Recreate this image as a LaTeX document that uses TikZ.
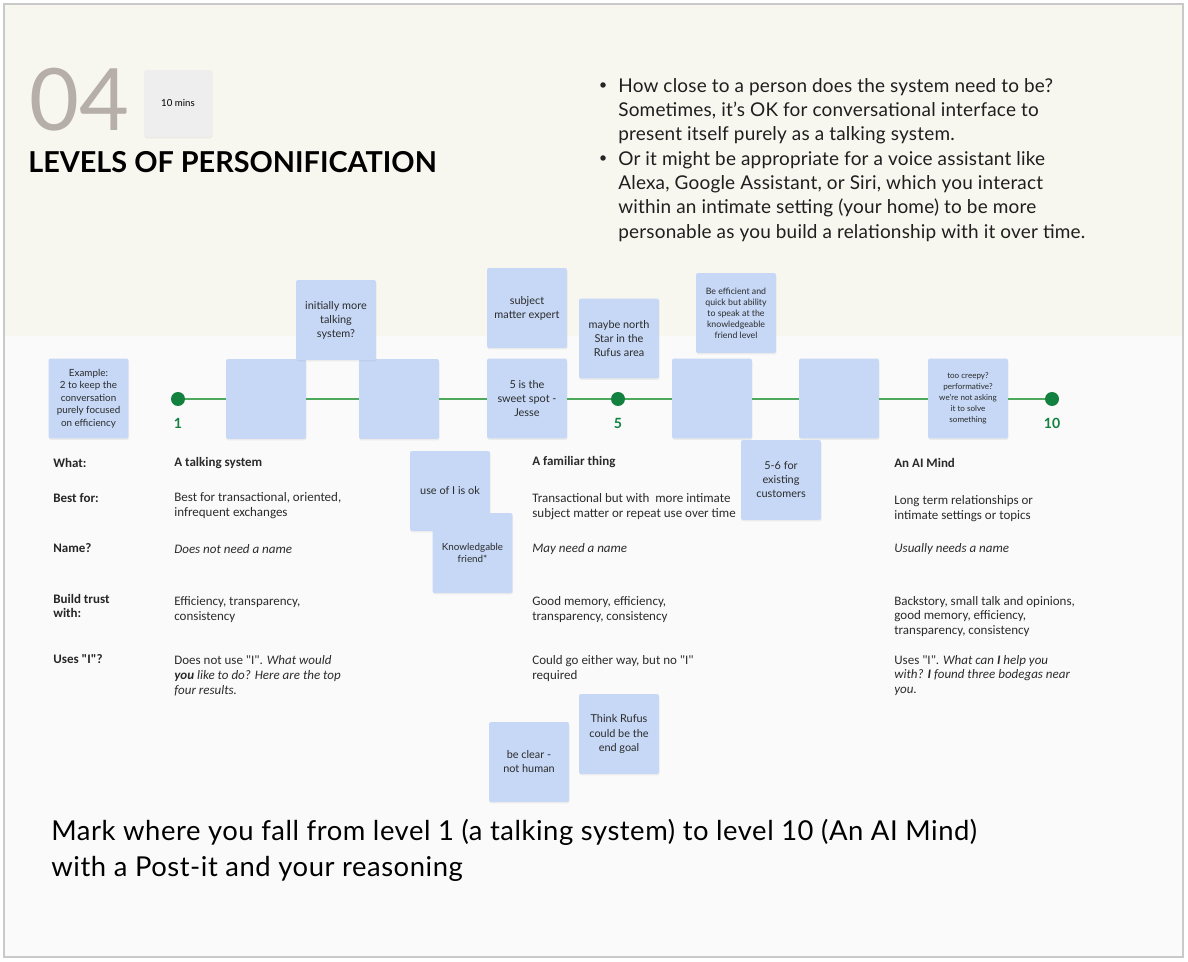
\documentclass[tikz,border=0pt]{standalone}
\usepackage{fontspec}
\setmainfont{Lato}
\newfontfamily\gridfont{Carlito}
\usetikzlibrary{positioning,shadows}
\definecolor{pfbeige}{HTML}{F7F6EF}
\definecolor{pfpaper}{HTML}{FAFAFA}
\definecolor{pfframe}{HTML}{C9C9C9}
\definecolor{pfnote}{HTML}{C6D8F6}
\definecolor{pfline}{HTML}{4DAA5C}
\definecolor{pfgreen}{HTML}{12803F}
\definecolor{pftaupe}{HTML}{B6AEA8}
\definecolor{pftext}{HTML}{2B2B2B}
\definecolor{pfcard}{HTML}{EEEEEE}

\begin{document}
\begin{tikzpicture}[x=0.02cm,y=-0.02cm]
    \tikzset{note/.style={fill=pfnote,rounded corners=1.2pt,minimum width=1.6cm,minimum height=1.6cm,inner sep=2pt,align=center,text=pftext,font=\fontsize{6.2}{8}\selectfont,drop shadow={opacity=0.12,shadow xshift=0.3pt,shadow yshift=-0.8pt}},
      smallnote/.style={note,font=\fontsize{5.6}{7.1}\selectfont},
      tinynote/.style={note,font=\fontsize{4.6}{6.2}\selectfont},
      rowhead/.style={anchor=west,inner sep=0pt,align=left,font=\gridfont\bfseries\fontsize{7.4}{8.5}\selectfont,text=black!85},
      cell/.style={anchor=west,inner sep=0pt,align=left,font=\gridfont\fontsize{7.4}{8.5}\selectfont,text=pftext},
      stop/.style={circle,fill=pfgreen,minimum size=0.28cm,inner sep=0pt},
      levelnum/.style={inner sep=0pt,font=\bfseries\fontsize{8}{8}\selectfont,text=pfgreen},
      pointtext/.style={anchor=west,inner sep=0pt,align=left,font=\fontsize{10.8}{13.8}\selectfont\addfontfeatures{LetterSpace=1},text=black!88},
      pointdot/.style={circle,fill=black!85,minimum size=0.11cm,inner sep=0pt}}
    \useasboundingbox[fill=white] (0,0) rectangle (1188,962);
    \fill[pfpaper] (4,4) rectangle (1183,957);
    \fill[pfbeige] (4,4) rectangle (1183,336);
    \draw[pfframe,line width=0.8pt] (4,4) rectangle (1183,957);

    \node[anchor=west,inner sep=0pt,text=pftaupe,font=\fontsize{49}{49}\selectfont] (num) at (29,100) {04};
    \node[fill=pfcard,minimum width=1.36cm,minimum height=1.34cm,rounded corners=1pt,font=\fontsize{5.5}{6}\selectfont,drop shadow={opacity=0.1,shadow xshift=0.3pt,shadow yshift=-0.8pt}] (mins) at (178,103.5) {10 mins};
    \node[anchor=west,inner sep=0pt,font=\bfseries\fontsize{16.4}{17}\selectfont] (title) at (28,162) {LEVELS OF PERSONIFICATION};

    \node[pointdot] (dota) at (603,85) {};
    \node[pointtext] (pointa) at (618,111) {How close to a person does the system need to be?\\Sometimes, it’s OK for conversational interface to\\present itself purely as a talking system.};
    \node[pointdot] (dotb) at (603,158) {};
    \node[pointtext] (pointb) at (618,196.5) {Or it might be appropriate for a voice assistant like\\Alexa, Google Assistant, or Siri, which you interact\\within an intimate setting (your home) to be more\\personable as you build a relationship with it over time.};

    \node[stop] (one) at (178,399) {};
    \node[stop] (five) at (618,399) {};
    \node[stop] (ten) at (1052,399) {};
    \draw[pfline,line width=1.6pt] (one) -- (five) -- (ten);
    \node[levelnum,below=0.24cm of one] (lone) {1};
    \node[levelnum,below=0.24cm of five] (lfive) {5};
    \node[levelnum,below=0.24cm of ten] (lten) {10};

    \node[rowhead] (what) at (53,463) {What:};
    \node[rowhead] (best) at (53,498) {Best for:};
    \node[rowhead] (name) at (53,548) {Name?};
    \node[rowhead] (trust) at (53,606) {Build trust\\with:};
    \node[rowhead] (uses) at (53,659) {Uses "I"?};

    \node[cell,font=\gridfont\bfseries\fontsize{7.4}{8.5}\selectfont] (talkwhat) at (174,463) {A talking system};
    \node[cell] (talkbest) at (174,505.5) {Best for transactional, oriented,\\infrequent exchanges};
    \node[cell] (talkname) at (174,549) {\itshape Does not need a name};
    \node[cell] (talktrust) at (174,609.5) {Efficiency, transparency,\\consistency};
    \node[cell] (talkuses) at (174,675.5) {Does not use "I". \textit{What would}\\\textbf{\textit{you}} \textit{like to do? Here are the top}\\\textit{four results.}};

    \node[cell,font=\gridfont\bfseries\fontsize{7.4}{8.5}\selectfont] (famwhat) at (532,462) {A familiar thing};
    \node[cell] (fambest) at (532,506.5) {Transactional but with\ \ more intimate\\subject matter or repeat use over time};
    \node[cell] (famname) at (532,549) {\itshape May need a name};
    \node[cell] (famtrust) at (532,609.5) {Good memory, efficiency,\\transparency, consistency};
    \node[cell] (famuses) at (532,668.5) {Could go either way, but no "I"\\required};

    \node[cell,font=\gridfont\bfseries\fontsize{7.4}{8.5}\selectfont] (mindwhat) at (894,463) {An AI Mind};
    \node[cell] (mindbest) at (894,508.5) {Long term relationships or\\intimate settings or topics};
    \node[cell] (mindname) at (894,549) {\itshape Usually needs a name};
    \node[cell] (mindtrust) at (894,616.5) {Backstory, small talk and opinions,\\good memory, efficiency,\\transparency, consistency};
    \node[cell] (minduses) at (894,675.5) {Uses "I". \textit{What can \textbf{I} help you}\\\textit{with? \textbf{I} found three bodegas near}\\\textit{you.}};

    \node[smallnote] (example) at (88.5,398.5) {Example:\\2 to keep the\\conversation\\purely focused\\on efficiency};
    \node[note] (blanka) at (266,399) {};
    \node[note] (blankb) at (399,399) {};
    \node[note] (initially) at (336,320) {initially more\\talking\\system?};
    \node[note] (sweet) at (527,398.5) {5 is the\\sweet spot -\\Jesse};
    \node[note] (expert) at (527,308) {subject\\matter expert};
    \node[note] (north) at (619,338.5) {maybe north\\Star in the\\Rufus area};
    \node[note] (blankc) at (712,398.5) {};
    \node[tinynote,font=\fontsize{5}{6.3}\selectfont] (quick) at (736,313) {Be efficient and\\quick but ability\\to speak at the\\knowledgeable\\friend level};
    \node[note] (blankd) at (839,398.5) {};
    \node[note] (existing) at (781,480) {5-6 for\\existing\\customers};
    \node[tinynote] (creepy) at (968,398.5) {too creepy?\\performative?\\we're not asking\\it to solve\\something};
    \node[note] (usei) at (450,491) {use of I is ok};
    \node[smallnote] (friend) at (472.5,553) {Knowledgable\\friend*};
    \node[note] (human) at (529,762) {be clear -\\not human};
    \node[note] (rufus) at (619,734) {Think Rufus\\could be the\\end goal};

    \node[anchor=west,inner sep=0pt,align=left,font=\fontsize{15.6}{20.5}\selectfont\addfontfeatures{LetterSpace=2}] (task) at (51,850) {Mark where you fall from level 1 (a talking system) to level 10 (An AI Mind)\\with a Post-it and your reasoning};
\end{tikzpicture}
\end{document}
